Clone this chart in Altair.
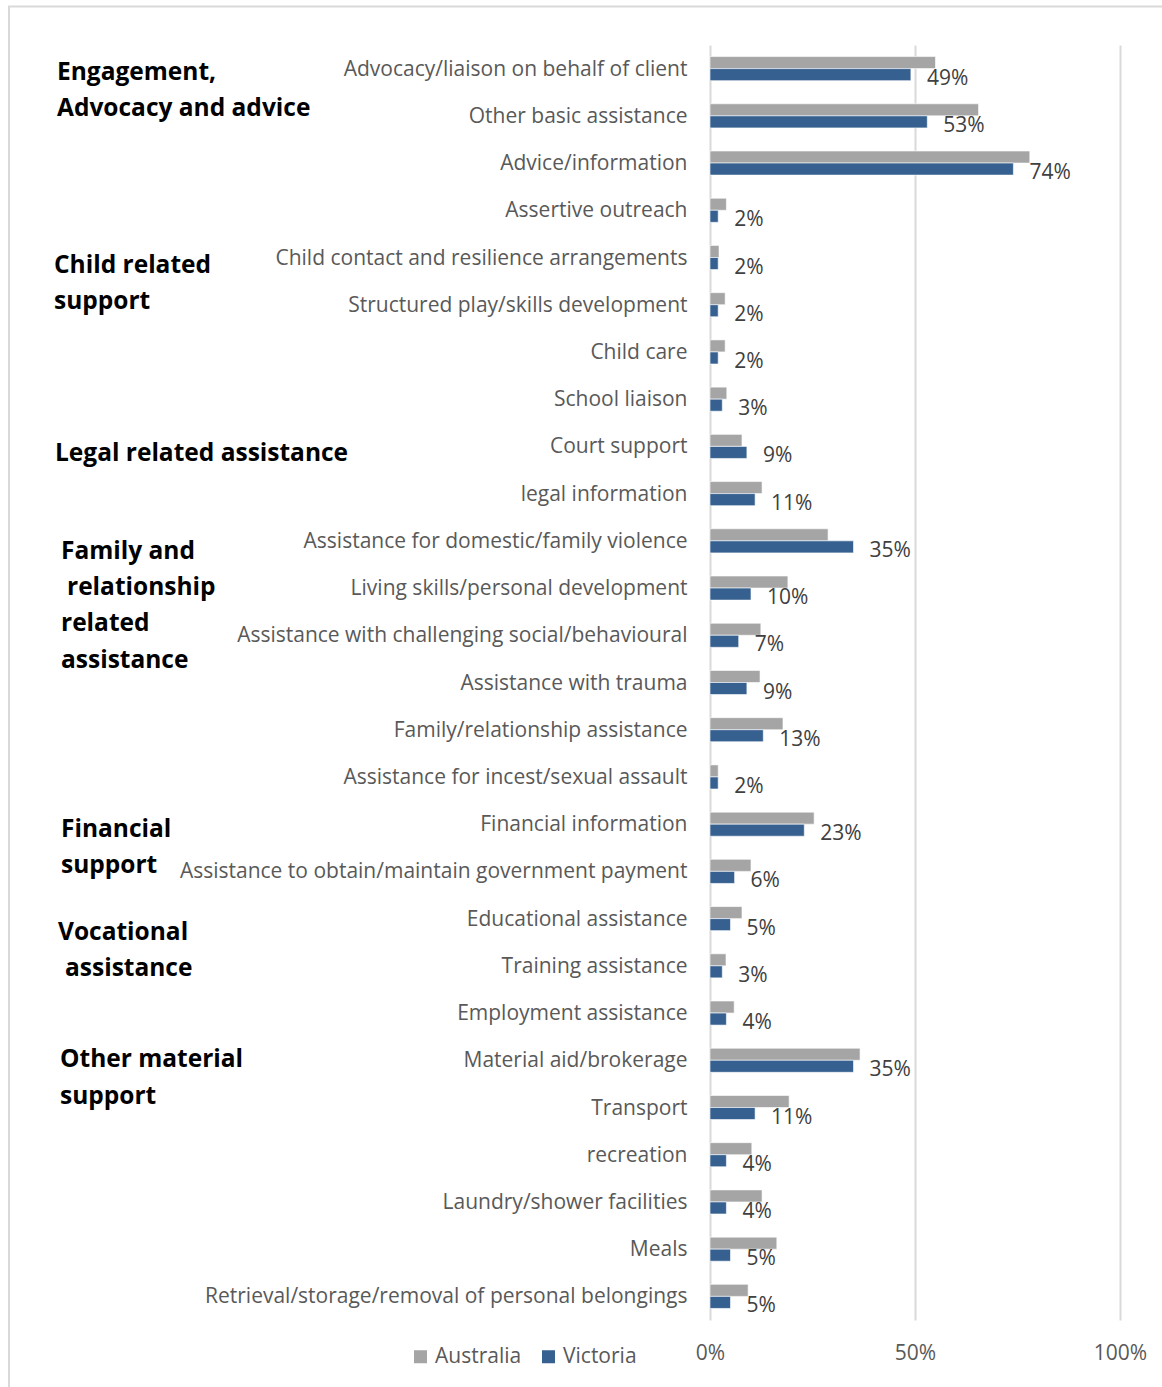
import altair as alt
import pandas as pd

categories = [
    "Advocacy/liaison on behalf of client",
    "Other basic assistance",
    "Advice/information",
    "Assertive outreach",
    "Child contact and resilience arrangements",
    "Structured play/skills development",
    "Child care",
    "School liaison",
    "Court support",
    "legal information",
    "Assistance for domestic/family violence",
    "Living skills/personal development",
    "Assistance with challenging social/behavioural",
    "Assistance with trauma",
    "Family/relationship assistance",
    "Assistance for incest/sexual assault",
    "Financial information",
    "Assistance to obtain/maintain government payment",
    "Educational assistance",
    "Training assistance",
    "Employment assistance",
    "Material aid/brokerage",
    "Transport",
    "recreation",
    "Laundry/shower facilities",
    "Meals",
    "Retrieval/storage/removal of personal belongings",
]
australia = [0.55, 0.655, 0.78, 0.04, 0.022, 0.037, 0.037, 0.041, 0.078, 0.127,
             0.288, 0.19, 0.124, 0.122, 0.178, 0.02, 0.254, 0.10, 0.078, 0.039,
             0.059, 0.366, 0.193, 0.102, 0.127, 0.163, 0.093]
victoria = [0.49, 0.53, 0.74, 0.02, 0.02, 0.02, 0.02, 0.03, 0.09, 0.11,
            0.35, 0.10, 0.07, 0.09, 0.13, 0.02, 0.23, 0.06, 0.05, 0.03,
            0.04, 0.35, 0.11, 0.04, 0.04, 0.05, 0.05]
series = ["Australia", "Victoria"]
series_colors = ["#A5A5A5", "#36608F"]

group_lines = [
    ["Engagement,", "Advocacy and advice"],
    ["Child related", "support"],
    ["Legal related assistance"],
    ["Family and", "relationship", "related", "assistance"],
    ["Financial", "support"],
    ["Vocational", "assistance"],
    ["Other material", "support"],
]
group_anchor = [
    "Advocacy/liaison on behalf of client",
    "Child contact and resilience arrangements",
    "Court support",
    "Assistance for domestic/family violence",
    "Financial information",
    "Educational assistance",
    "Material aid/brokerage",
]

# layout (pixels, relative to the plot origin)
PLOT_W, PLOT_H = 410, 1275
group_x = [[-653, -653], [-656, -656], [-655], [-649, -643, -649, -649],
           [-649, -649], [-652, -645], [-650, -650]]
group_dy = [4.5, 8.5, 7.5, 11, 6, 14, 0]
LINE_H = 36.3

rows = []
for c, a, v in zip(categories, australia, victoria):
    rows.append({"category": c, "series": "Australia", "value": a})
    rows.append({"category": c, "series": "Victoria", "value": v})
df = pd.DataFrame(rows)
vic_df = pd.DataFrame({"category": categories, "value": victoria})

FONT = "Open Sans"

y_enc = alt.Y(
    "category:N",
    sort=categories,
    scale=alt.Scale(domain=categories, paddingInner=0.49, paddingOuter=0.245),
    axis=alt.Axis(
        title=None, ticks=False, domain=False, labelPadding=23, labelLimit=0,
        labelOffset=1, labelFontSize=21, labelColor="#595959", labelFont=FONT,
    ),
)

bars = alt.Chart(df).mark_bar(stroke="white", strokeWidth=0.6).encode(
    x=alt.X(
        "value:Q",
        scale=alt.Scale(domain=[0, 1], nice=False, zero=True),
        axis=alt.Axis(
            title=None, values=[0, 0.5, 1], format=".0%", ticks=False, domain=False,
            grid=True, gridColor="#D9D9D9", gridWidth=2, labelPadding=22,
            labelFlush=False, labelFontSize=21, labelColor="#595959", labelFont=FONT,
        ),
    ),
    y=y_enc,
    yOffset=alt.YOffset("series:N", sort=series,
                        scale=alt.Scale(domain=series, paddingInner=0, paddingOuter=0)),
    color=alt.Color(
        "series:N",
        sort=series,
        scale=alt.Scale(domain=series, range=series_colors),
        legend=alt.Legend(
            title=None, orient="none", legendX=-300, legendY=1301, direction="horizontal",
            symbolType="square", symbolSize=169,
            symbolStrokeWidth=0, labelFontSize=21, labelColor="#595959", labelFont=FONT,
            labelOffset=4, columnPadding=16, padding=0,
        ),
    ),
)

labels = alt.Chart(vic_df).mark_text(
    align="left", baseline="middle", dx=16, dy=10, fontSize=21, color="#404040", font=FONT
).encode(
    x=alt.X("value:Q"),
    y=alt.Y("category:N", sort=categories),
    text=alt.Text("value:Q", format=".0%"),
)

layers = [bars, labels]
for lines, anchor, xs, dy in zip(group_lines, group_anchor, group_x, group_dy):
    for j, (line, xx) in enumerate(zip(lines, xs)):
        layers.append(
            alt.Chart(pd.DataFrame({"category": [anchor], "text": [line]})).mark_text(
                align="left", baseline="middle", dy=dy + j * LINE_H,
                fontSize=24.5, fontWeight="bold", color="#000000", font=FONT,
            ).encode(
                x=alt.value(xx),
                y=alt.Y("category:N", sort=categories),
                text="text:N",
            )
        )

frame = alt.Chart(pd.DataFrame({"k": [0]})).mark_rect(
    fill=None, stroke="#D9D9D9", strokeWidth=2
).encode(
    x=alt.value(-701), x2=alt.value(470), y=alt.value(-38.5), y2=alt.value(1400)
)
layers.append(frame)

chart = alt.layer(*layers).properties(
    width=PLOT_W, height=PLOT_H,
    autosize=alt.AutoSizeParams(type="none"),
    padding={"left": 710, "top": 45, "right": 42, "bottom": 67},
    background="white",
).configure_view(stroke=None)

chart.save("out.html", embed_options={"renderer": "svg", "actions": False})
